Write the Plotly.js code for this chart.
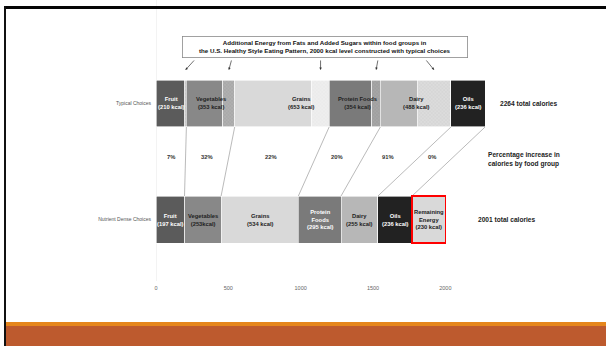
<!DOCTYPE html>
<html>
<head>
<meta charset="utf-8">
<script src="https://cdn.plot.ly/plotly-3.0.1.min.js"></script>
<style>
  html,body{margin:0;padding:0;background:#fff;}
  #wrap{position:relative;width:606px;height:346px;overflow:hidden;background:#fff;}
  #chart{position:absolute;left:0;top:0;width:606px;height:346px;}
  .deco{position:absolute;z-index:5;}
</style>
</head>
<body>
<div id="wrap">
  <div id="chart"></div>
  <div class="deco" style="left:4px;top:6px;width:602px;height:2.5px;background:#050505;"></div>
  <div class="deco" style="left:4px;top:6px;width:2.2px;height:340px;background:#111;"></div>
  <div class="deco" style="left:6px;top:322px;width:600px;height:4px;background:#e5861c;"></div>
  <div class="deco" style="left:6px;top:326px;width:600px;height:20px;background:#bd5a2e;"></div>
</div>
<script>
// ---- data ----
const groups = ['Fruit','Vegetables','Grains','Protein Foods','Dairy','Oils'];
const nutrientKcal = [197,253,534,295,255,236];
const typicalExtraKcal = [13,81,119,59,233,0];
const remainingKcal = 230;
const typicalLabels = ['Fruit<br>(210 kcal)','Vegetables<br>(353 kcal)','Grains<br>(653 kcal)','Protein Foods<br>(354 kcal)','Dairy<br>(488 kcal)','Oils<br>(236 kcal)'];
const nutrientLabels = ['Fruit<br>(197 kcal)','Vegetables<br>(253kcal)','Grains<br>(534 kcal)','Protein<br>Foods<br>(295 kcal)','Dairy<br>(255 kcal)','Oils<br>(236 kcal)','Remaining<br>Energy<br>(230 kcal)'];
const pctLabels = ['7%','32%','22%','20%','91%','0%'];
const rowCats = ['Nutrient Dense Choices','Typical Choices'];
const xTicks = [0,500,1000,1500,2000];
const typicalTotalText = '2264 total calories';
const nutrientTotalText = '2001 total calories';
const pctTitleText = 'Percentage increase in<br>calories by food group';
const boxTitleText = 'Additional Energy from Fats and Added Sugars within food groups in<br>the U.S. Healthy Style Eating Pattern, 2000 kcal level constructed with typical choices';

// ---- styles ----
const baseColors = ['#5b5b5b','#888888','#d9d9d9','#7a7a7a','#b7b7b7','#222222'];
const extraBg = ['#d0d0d0','#b0b0b0','#eeeeee','#a6a6a6','#dcdcdc','#dcdcdc'];
const extraFg = ['#b5b5b5','#9c9c9c','#e6e6e6','#959595','#cdcdcd','#cdcdcd'];
const typLabelColors = ['#ffffff','#222','#222','#222','#222','#ffffff'];
const nutLabelColors = ['#ffffff','#222','#222','#ffffff','#222','#ffffff','#222'];
const typLabelShift = [0,0,19,3,0,0];
const arrowAx = [10,3,0,2,-9];
const FONT = 'Liberation Sans, Arial, sans-serif';
const TYP = rowCats[1], NUT = rowCats[0];
const HALF = 0.2025;

const traces = [];
groups.forEach((g,i)=>{
  traces.push({
    type:'bar', orientation:'h', y:[TYP,NUT], x:[nutrientKcal[i],nutrientKcal[i]],
    marker:{color:baseColors[i], line:{color:'#ffffff', width:0.6}},
    hoverinfo:'skip', showlegend:false
  });
  if (typicalExtraKcal[i] > 0) {
    traces.push({
      type:'bar', orientation:'h', y:[TYP,NUT], x:[typicalExtraKcal[i], null],
      marker:{color:extraBg[i], line:{color:'#ffffff', width:0.6},
        pattern:{shape:'x', size:2.5, solidity:0.25, fgcolor:extraFg[i], bgcolor:extraBg[i]}},
      hoverinfo:'skip', showlegend:false
    });
  }
});
traces.push({
  type:'bar', orientation:'h', y:[TYP,NUT], x:[null, remainingKcal],
  marker:{color:'#d9d9d9', line:{color:'#ff0000', width:1.6}},
  hoverinfo:'skip', showlegend:false
});

// cumulative positions
const typStart=[], typEnd=[], nutStart=[], nutEnd=[], extraCenter=[];
let ct=0, cn=0;
groups.forEach((g,i)=>{
  typStart.push(ct);
  extraCenter.push(ct + nutrientKcal[i] + typicalExtraKcal[i]/2);
  ct += nutrientKcal[i] + typicalExtraKcal[i]; typEnd.push(ct);
  nutStart.push(cn); cn += nutrientKcal[i]; nutEnd.push(cn);
});
const remStart = cn, remEnd = cn + remainingKcal;

const annotations = [];
groups.forEach((g,i)=>{
  annotations.push({x:(typStart[i]+typEnd[i])/2, y:1, xref:'x', yref:'y', text:typicalLabels[i],
    showarrow:false, xshift:typLabelShift[i], font:{family:FONT,size:5.8,color:typLabelColors[i],weight:'bold'}});
  annotations.push({x:(nutStart[i]+nutEnd[i])/2, y:0, xref:'x', yref:'y', text:nutrientLabels[i],
    showarrow:false, font:{family:FONT,size:5.8,color:nutLabelColors[i],weight:'bold'}});
  const mid = ((typStart[i]+typEnd[i])/2 + (nutStart[i]+nutEnd[i])/2)/2;
  annotations.push({x:mid, y:0.539, xref:'x', yref:'y', text:pctLabels[i], showarrow:false,
    font:{family:FONT,size:5.8,color:'#333',weight:'bold'}});
});
annotations.push({x:(remStart+remEnd)/2, y:0, xref:'x', yref:'y', text:nutrientLabels[6],
  showarrow:false, font:{family:FONT,size:5.8,color:nutLabelColors[6],weight:'bold'}});

// arrows to the added portions
for (let i=0;i<5;i++){
  annotations.push({x:extraCenter[i], y:1.289, xref:'x', yref:'y', text:'', showarrow:true,
    ax:arrowAx[i], ay:-11, arrowhead:2, arrowsize:0.7, arrowwidth:0.7, arrowcolor:'#333', standoff:0});
}
// right texts
annotations.push({x:2367, y:1, xref:'x', yref:'y', xanchor:'left', text:typicalTotalText, showarrow:false,
  font:{family:FONT,size:6.6,color:'#222',weight:'bold'}});
annotations.push({x:2215, y:0, xref:'x', yref:'y', xanchor:'left', text:nutrientTotalText, showarrow:false,
  font:{family:FONT,size:6.6,color:'#222',weight:'bold'}});
annotations.push({x:2284, y:0.52, xref:'x', yref:'y', xanchor:'left', align:'left', text:pctTitleText, showarrow:false,
  font:{family:FONT,size:6.6,color:'#222',weight:'bold'}});
// title box
annotations.push({x:1168, y:1.483, xref:'x', yref:'y', text:boxTitleText, showarrow:false, align:'center',
  width:282, height:18, bordercolor:'#8a8a8a', borderwidth:0.8, borderpad:1, bgcolor:'#ffffff',
  font:{family:FONT,size:6.2,color:'#111',weight:'bold'}});

const shapes = groups.map((g,i)=>({
  type:'line', xref:'x', yref:'y', x0:typEnd[i], y0:1-HALF, x1:nutEnd[i], y1:HALF,
  line:{color:'#a8a8a8', width:0.8}, layer:'below'
}));

const layout = {
  width:606, height:346,
  margin:{l:156, r:16, t:0, b:65, pad:0},
  paper_bgcolor:'rgba(0,0,0,0)', plot_bgcolor:'rgba(0,0,0,0)',
  barmode:'stack', bargap:0.595,
  showlegend:false,
  xaxis:{range:[0,3000], tickvals:xTicks, ticktext:xTicks.map(String), showgrid:false,
    zeroline:true, zerolinecolor:'#f3f3f3', zerolinewidth:1, showline:false, ticks:'',
    tickfont:{family:FONT,size:5.5,color:'#666'}, ticklabelstandoff:2, fixedrange:true},
  yaxis:{type:'category', categoryarray:rowCats, categoryorder:'array', range:[-0.530,1.892],
    showgrid:false, zeroline:false, showline:false, ticks:'', ticklabelstandoff:4,
    tickfont:{family:FONT,size:5,color:'#555'}, fixedrange:true},
  annotations:annotations, shapes:shapes
};
Plotly.newPlot('chart', traces, layout, {staticPlot:true, displayModeBar:false});
</script>
</body>
</html>
